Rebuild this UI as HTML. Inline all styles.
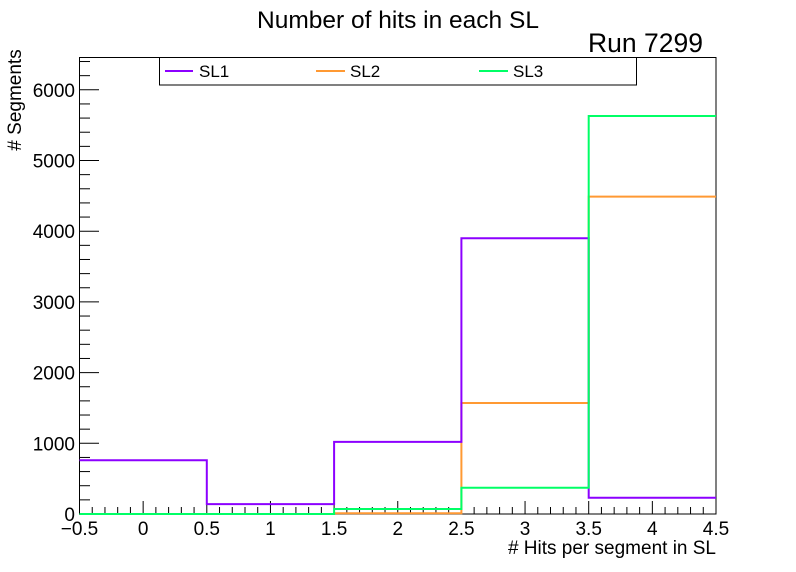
<!DOCTYPE html>
<html><head><meta charset="utf-8"><style>
body{margin:0;background:#fff;}
svg{display:block;font-family:"Liberation Sans",Arial,sans-serif;}
</style></head><body>
<svg id="s" width="796" height="572" xmlns="http://www.w3.org/2000/svg">
<rect width="796" height="572" fill="#fff"/>
<text x="398" y="28" font-size="24.5" text-anchor="middle">Number of hits in each SL</text>
<text x="588" y="52" font-size="26.5">Run 7299</text>
<rect x="79.5" y="57.5" width="636.5" height="456.5" fill="none" stroke="#000" stroke-width="1"/>
<g id="ticks" stroke="#000" stroke-width="1"></g>
<g font-size="19" text-anchor="end" id="ylab"></g>
<g font-size="19" text-anchor="middle" id="xlab"></g>
<text transform="translate(21,100) rotate(-90)" font-size="19" text-anchor="middle">Segments</text>
<text x="716" y="554" font-size="19" text-anchor="end"># Hits per segment in SL</text>
<g fill="none" stroke-width="2">
<path stroke="#ff9933" d="M79.5 514 H334.1 V513.3 H461.4 V403 H588.7 V196.6 H716"/>
<path stroke="#8c00ff" d="M79.5 460.3 H206.8 V504.1 H334.1 V441.9 H461.4 V238.3 H588.7 V497.7 H716"/>
<path stroke="#00ff66" d="M79.5 514 H334.1 V509 H461.4 V487.8 H588.7 V116 H716"/>
</g>
<rect x="159.5" y="57.5" width="477" height="27.5" fill="#fff" stroke="#000" stroke-width="1"/>
<g stroke-width="2">
<line x1="165" y1="71" x2="193" y2="71" stroke="#8c00ff"/>
<line x1="316" y1="71" x2="345" y2="71" stroke="#ff9933"/>
<line x1="479" y1="71" x2="508" y2="71" stroke="#00ff66"/>
</g>
<g font-size="17">
<text x="199" y="77">SL1</text>
<text x="350" y="77">SL2</text>
<text x="513" y="77">SL3</text>
</g>
</svg>
<script>
var NS="http://www.w3.org/2000/svg";
var t=document.getElementById("ticks"),yl=document.getElementById("ylab"),xl=document.getElementById("xlab");
function L(x1,y1,x2,y2){var l=document.createElementNS(NS,"line");l.setAttribute("x1",x1);l.setAttribute("y1",y1);l.setAttribute("x2",x2);l.setAttribute("y2",y2);t.appendChild(l);}
function T(g,x,y,s){var e=document.createElementNS(NS,"text");e.setAttribute("x",x);e.setAttribute("y",y);e.textContent=s;g.appendChild(e);}
for(var v=0;v<=6400;v+=200){var y=514-0.0707*v;if(y<58)break;var maj=v%1000==0;L(80,y,maj?99:90,y);if(maj)T(yl,75,y+7,String(v));}
for(var i=0;i<=50;i++){var v=-0.5+i*0.1;var x=79.5+127.3*(v+0.5);var maj=i%5==0;L(x,514,x,maj?501:507);
if(maj){var s=(Math.round(v*10)/10).toString().replace("-","\u2212");T(xl,x,535,s);}}
var lab=document.querySelector('text[transform]');lab.textContent="# Segments";
</script>
</body></html>
